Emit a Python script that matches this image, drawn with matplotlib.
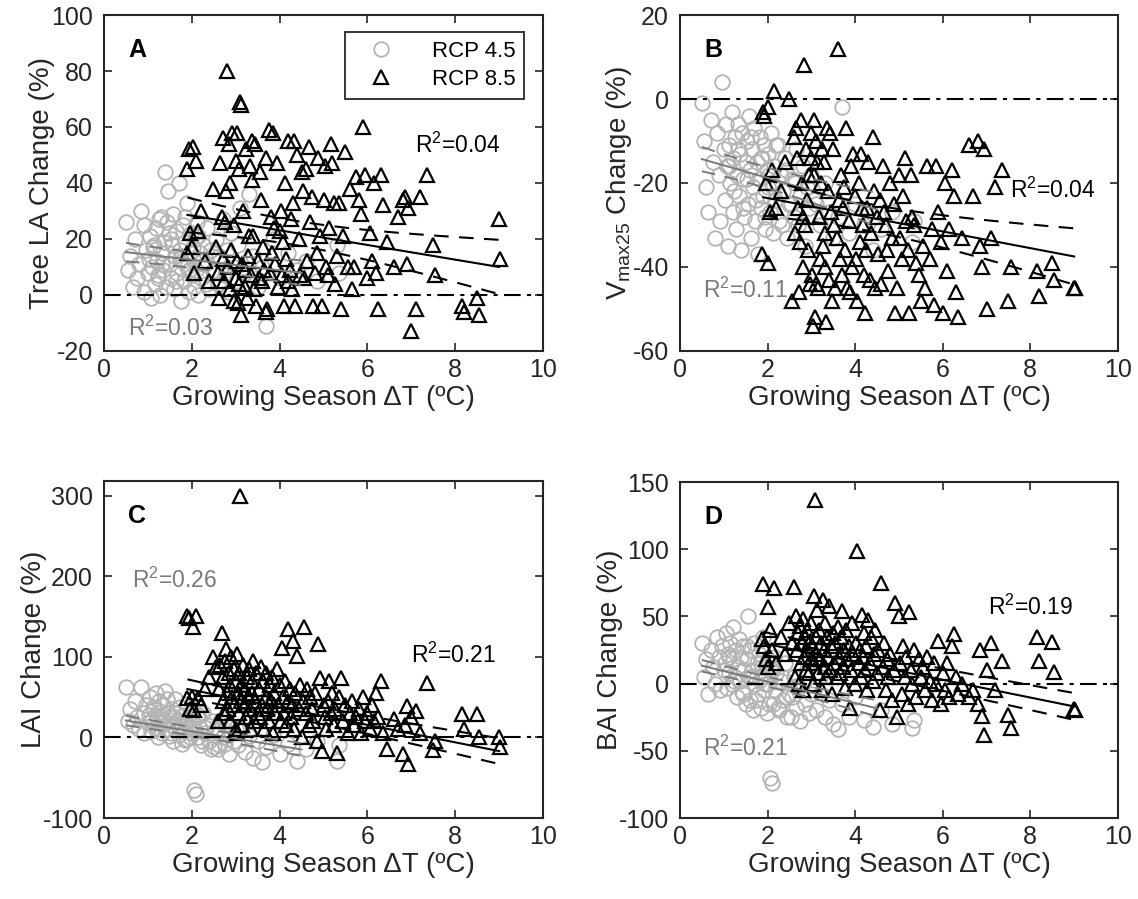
import numpy as np
import matplotlib.pyplot as plt

plt.rcParams['font.family'] = ['Liberation Sans', 'DejaVu Sans']
plt.rcParams['mathtext.fontset'] = 'custom'
plt.rcParams['mathtext.rm'] = 'Liberation Sans'
plt.rcParams['mathtext.it'] = 'Liberation Sans:italic'
plt.rcParams['mathtext.default'] = 'regular'
plt.rcParams['axes.unicode_minus'] = False

# growing season warming per site (RCP 8.5)
dT85 = [1.88, 1.9, 1.93, 1.96, 2.0, 2.02, 2.05, 2.1, 2.15, 2.2, 2.3, 2.4, 2.48, 2.55,
        2.6, 2.62, 2.65, 2.68, 2.7, 2.72, 2.74, 2.76, 2.78, 2.8, 2.82, 2.84, 2.86, 2.88, 2.9, 2.92, 2.95, 2.97, 3.0, 3.0,
        3.02, 3.04, 3.05, 3.07, 3.08, 3.1, 3.11, 3.13, 3.15, 3.17, 3.2, 3.22, 3.24, 3.26, 3.28, 3.3, 3.32, 3.34, 3.36, 3.38, 3.4, 3.42, 3.45, 3.47, 3.5,
        3.52, 3.55, 3.58, 3.6, 3.63, 3.65, 3.68, 3.7, 3.72, 3.75, 3.77, 3.8, 3.82, 3.85, 3.88, 3.9, 3.93, 3.96, 4.0,
        4.02, 4.05, 4.08, 4.1, 4.13, 4.15, 4.18, 4.2, 4.23, 4.25, 4.28, 4.3, 4.33, 4.36, 4.4, 4.43, 4.46, 4.5,
        4.53, 4.56, 4.6, 4.63, 4.66, 4.7, 4.73, 4.76, 4.8, 4.84, 4.88, 4.92, 4.96, 5.0,
        5.03, 5.06, 5.1, 5.13, 5.16, 5.2, 5.23, 5.27, 5.3, 5.35, 5.4, 5.45, 5.5,
        5.55, 5.6, 5.65, 5.7, 5.75, 5.8, 5.85, 5.9, 5.95, 6.0,
        6.05, 6.1, 6.15, 6.2, 6.25, 6.3, 6.35, 6.45,
        6.6, 6.7, 6.8, 6.85, 6.9, 6.93, 7.0,
        7.1, 7.2, 7.35, 7.5, 7.55, 8.15, 8.2, 8.5, 8.55, 9.0, 9.02]

la85 = [45, 15, 52, 22, 17, 53, 8, 48, 23, 30, 12, 5, 38, 17,
        8, -1, 47, 28, 13, 56, 5, 26, 37, 80, 10, 54, 2, 40, 16, 58, -2, 25, 48, 6,
        58, 12, -3, 45, 4, 69, 68, -7, 11, 30, 3, 9, 52, -1, 14, 21, 46, 7, 55, 41, 21, 2, 54, -4, 12,
        6, 44, 34, 5, 17, 9, -6, 49, -5, 59, 8, 28, 15, 58, 24, 11, 47, 3, 23,
        30, 7, 19, -4, 40, 13, 5, 55, 9, 27, 2, 33, 55, -4, 50, 20, 7, 44,
        37, 6, 45, 12, 53, 26, 35, -4, 8, 15, 49, 21, -4, 34,
        46, 10, 7, 24, 54, 47, 33, 4, 14, 33, -5, 21, 51,
        10, 38, 2, 10, 42, 34, 29, 60, 43, 6,
        22, 12, 40, 8, -5, 43, 32, 19,
        10, 28, 34, 35, 11, 31, -13,
        -5, 35, 43, 18, 7, -4, -6, -1, -7, 27, 13]

vmax85 = [-37, -3, -4, -20, -39, -2, -27, -17, 2, -26, -22, -15, 0, -48,
          -9, -32, -7, -14, -26, -46, -34, -5, -20, -28, -40, 8, -30, -12, -24, -36, -18, -44, -8, -14,
          -42, -54, -5, -18, -52, -44, -10, -15, -45, -28, -38, -20, -12, -35, -15, -40, -32, -53, -7, -22, -43, -8, -27, -48, -12,
          -30, -45, -33, 12, -24, -38, -18, -42, -26, -21, -36, -7, -45, -29, -46, -16, -40, -13, -23,
          -38, -48, -20, -34, -13, -26, -30, -42, -51, -36, -26, -15, -43, -32, -9, -22, -45, -28,
          -37, -24, -44, -16, -27, -30, -36, -41, -20, -33, -25, -51, -45, -18,
          -33, -38, -23, -14, -29, -36, -51, -18, -28, -30, -39, -42, -48,
          -35, -45, -16, -38, -31, -49, -16, -27, -34, -51,
          -20, -41, -31, -17, -23, -46, -52, -33,
          -11, -23, -10, -35, -40, -12, -50,
          -33, -21, -17, -48, -40, -41, -47, -39, -43, -45, -45]

lai85 = [150, 49, 148, 35, 50, 137, 34, 150, 49, 40, 60, 75, 100, 87,
         20, 60, 90, 129, 45, 75, 30, 95, 110, 55, 35, 80, 65, 20, 100, 50, 85, 40, 10, 70,
         103, 5, 55, 30, 80, 300, 45, 65, 15, 90, 40, 60, 25, 75, 50, 85, 35, 10, 70, 55, 95, 20, 45, 80, 30,
         60, 25, 87, 40, 70, 10, 50, 80, 35, 20, 65, 45, 75, 5, 55, 30, 85, 40, 65,
         20, 111, 50, 30, 70, 15, 45, 134, 60, 25, 40, 120, 10, 55, 101, 35, 65, 0,
         45, 137, 30, 60, 15, 50, 35, 20, 55, -5, 116, 74, -17, 40,
         25, 10, 45, 70, 30, 55, 15, 35, -19, 50, 74, 20, 40,
         5, 30, 45, 15, 25, 35, 5, 50, 20, 30,
         10, 40, 20, 55, 25, 70, 5, -14,
         23, 10, -20, 15, 39, -33, 25,
         33, 5, 67, -16, -5, 29, 11, 29, 1, 1, -12]

bai85 = [33, 74, 28, 18, 57, 12, 40, 25, 71, 15, 35, 22, 45, 30,
         72, 5, 50, 25, 38, 0, 43, 15, 30, -5, 48, 20, 35, 10, 40, 25, 8, 32, 18, 45,
         28, 0, 65, 15, 137, 35, 22, 55, 8, 40, 18, 30, -5, 62, 25, 12, 45, 5, 35, 20, 58, 10, 28, -8, 38,
         15, 30, 5, 42, 20, 8, 35, 54, 12, 25, -3, 40, 18, 28, -18, 10, 45, 22, 0,
         30, 99, 15, 25, 5, 51, 20, 38, 10, 28, -5, 47, 15, 35, 2, 22, 40, 8,
         25, -20, 75, 12, 30, -5, 18, 5, 22, -12, 10, 60, -25, 50,
         15, -8, 28, 5, 20, -15, 53, 10, 0, 25, -10, 18, 5,
         12, -5, 20, 2, -12, 15, 0, 32, -15, 8,
         -5, 15, -10, 28, 37, 5, -8, 0,
         -10, -5, -15, 25, -24, -38, 10,
         30, -5, 17, -23, -33, 35, 17, 31, 9, -19, -20]

# growing season warming per site (RCP 4.5)
dT45 = [0.5, 0.55, 0.6, 0.65, 0.7, 0.75, 0.8, 0.85, 0.9, 0.92, 0.95, 1.0,
        1.02, 1.05, 1.08, 1.1, 1.12, 1.15, 1.18, 1.2, 1.22, 1.25, 1.27, 1.3, 1.32, 1.35, 1.37, 1.4, 1.42, 1.45, 1.47, 1.5,
        1.52, 1.55, 1.57, 1.6, 1.62, 1.65, 1.67, 1.7, 1.72, 1.75, 1.78, 1.8, 1.83, 1.85, 1.88, 1.9, 1.93, 1.95, 1.98, 2.0,
        2.02, 2.05, 2.08, 2.1, 2.12, 2.15, 2.18, 2.2, 2.25, 2.3, 2.35, 2.4, 2.45, 2.5,
        2.55, 2.6, 2.65, 2.7, 2.75, 2.8, 2.85, 2.9, 2.95, 3.0,
        3.05, 3.1, 3.2, 3.3, 3.4, 3.5,
        3.6, 3.7, 3.85, 4.0, 4.2, 4.4,
        4.6, 4.85, 5.3, 5.35,
        1.13, 1.23, 1.33, 1.43, 1.53, 1.63, 1.73, 1.84, 1.94, 2.03, 2.13, 2.23, 2.33, 2.43, 2.53, 2.63]

la45 = [26, 9, 14, 3, 20, 6, 11, 30, 25, 1, 16, 8,
        13, 21, -1, 10, 17, 4, 24, 12, 7, 27, 0, 28, 15, 9, 19, 44, 3, 37, 22, 11,
        6, 18, 29, 2, 14, 23, 8, 40, 16, -2, 12, 25, 5, 19, 10, 33, 1, 15, 22, 7,
        13, 3, 20, 9, 26, 0, 15, 6, 18, 11, 24, 2, 14, 8,
        20, 4, 12, 27, 7, 16, 1, 22, 10, 5,
        18, 31, 8, 36, 14, 3,
        10, -11, 20, 6, 15, 9,
        12, 5, 18, 8,
        18, 6, 11, 26, 20, 5, 13, 28, 9, 17, 21, 12, 4, 16, 9, 14]

vmax45 = [-1, -10, -21, -27, -5, -15, -33, -8, -18, -29, 4, -12,
          -24, -6, -16, -35, -11, -20, -3, -27, -14, -9, -31, -18, -6, -23, -13, -36, -8, -19, -28, -15,
          -10, -25, -4, -17, -33, -12, -21, -7, -29, -15, -37, -19, -9, -26, -14, -23, -11, -31, -17, -21,
          -13, -27, -8, -20, -32, -16, -24, -11, -29, -18, -22, -14, -33, -25,
          -19, -28, -12, -30, -23, -16, -35, -21, -26, -18,
          -24, -25, -30, -20, -27, -33,
          -28, -2, -32, -25, -30, -36,
          -31, -27, -34, -29,
          -16, -22, -12, -26, -19, -9, -24, -14, -28, -18, -21, -11, -30, -17, -25, -20]

lai45 = [62, 20, 35, 15, 45, 25, 10, 62, 30, 5, 40, 18,
         28, 50, 8, 22, 38, 12, 55, 25, 0, 45, 18, 32, 5, 40, 20, 58, 10, 30, 2, 22,
         15, 35, -5, 25, 48, 10, 20, 3, 38, 14, -8, 28, 8, 22, -2, 42, 12, 0, 30, 5,
         18, -65, 8, -70, 25, 0, 12, -10, 30, 5, 15, -5, 20, -12,
         10, -15, 20, 0, -8, 15, -20, 5, -5, 12,
         -10, 8, -18, 2, -25, -5,
         -30, -12, 3, -20, -8, -29,
         -15, -5, -29, -10,
         35, 10, 25, 48, 5, 30, 15, -3, 22, 10, 28, -5, 12, -15, 8, -10]

bai45 = [30, 5, 18, -8, 25, 12, 0, 35, 20, -5, 28, 10,
         15, 38, -3, 22, 8, 30, 0, 18, 42, 5, 25, -10, 12, 33, 2, 20, -6, 28, 10, -15,
         18, 50, 5, -12, 25, 10, -20, 30, 0, 15, -8, 22, 3, -18, 12, 35, -5, 8, -22, 18,
         0, -70, 10, -74, -15, 20, -5, 8, -20, 2, -12, 15, -25, -8,
         -10, 5, -18, -2, -28, 0, -15, 10, -22, -8,
         -5, -20, 5, -25, -12, -30,
         -34, -15, -25, -10, -27, -32,
         -20, -30, -33, -27,
         20, 2, 12, -8, 28, 5, -12, 15, 0, -15, 10, -18, 5, -10, -25, -2]

# regression lines (value at start / end of range, band half width)
fit85_range = [1.9, 9.0]
fit85_start = [28.6, -23.4, 60, 30]
fit85_end = [10.0, -37.5, -17, -17]
band85_start = [6.2, 4.4, 12, 8.5]
band85_end = [9.7, 6.7, 16, 10]
fit45_range = [0.5, 4.5]
fit45_start = [15.3, -14.3, 21, 13.3]
fit45_end = [7.9, -26.3, -15, -18.4]
band45_start = [3.3, 2.9, 6, 4.3]
band45_end = [4.5, 4.0, 8, 6]

r2_85 = ['0.04', '0.04', '0.21', '0.19']
r2_45 = ['0.03', '0.11', '0.26', '0.21']
letters = ['A', 'B', 'C', 'D']
ylabels = ['Tree LA Change (%)', 'V$_{max25}$ Change (%)', 'LAI Change (%)', 'BAI Change (%)']
ylims = [(-20, 100), (-60, 20), (-100, 318), (-100, 150)]
yticks = [np.arange(-20, 101, 20), np.arange(-60, 21, 20), np.arange(-100, 301, 100), np.arange(-100, 151, 50)]

for v in [la85, vmax85, lai85, bai85]:
    if len(v) != len(dT85):
        raise ValueError(f'85: {len(v)} vs {len(dT85)}')
for v in [la45, vmax45, lai45, bai45]:
    if len(v) != len(dT45):
        raise ValueError(f'45: {len(v)} vs {len(dT45)}')

ys85 = [la85, vmax85, lai85, bai85]
ys45 = [la45, vmax45, lai45, bai45]

# text positions in axes fraction
r2_85_pos = [(0.708, 0.613), (0.753, 0.479), (0.70, 0.484), (0.703, 0.628)]
r2_45_pos = [(0.055, 0.068), (0.053, 0.182), (0.064, 0.706), (0.053, 0.208)]
ylabel_x = [-0.112, -0.104, -0.13, -0.13]

fig = plt.figure(figsize=(11.38, 8.99), dpi=100)
axes_rect = [[0.0914, 0.6096, 0.3858, 0.3737], [0.5975, 0.6096, 0.3849, 0.3737],
             [0.0914, 0.0901, 0.3858, 0.3748], [0.5975, 0.0901, 0.3849, 0.3737]]

c_circle = '#b4b4b4'
c_gray = '#7a7a7a'
frame = '#262626'


def band(x, x0, x1, xc, h0, h1):
    d0, d1 = (x0 - xc) ** 2, (x1 - xc) ** 2
    b = max((h1 ** 2 - h0 ** 2) / (d1 - d0), 0)
    a = h0 ** 2 - b * d0
    return np.sqrt(a + b * (x - xc) ** 2)


for i in range(4):
    ax = fig.add_axes(axes_rect[i])
    ax.plot(dT45, ys45[i], 'o', ms=10.5, mfc='none', mec=c_circle, mew=1.3, zorder=2, label='RCP 4.5')
    ax.plot(dT85, ys85[i], '^', ms=10.5, mfc='none', mec='black', mew=1.6, zorder=3, label='RCP 8.5')

    # RCP 4.5 fit
    x = np.linspace(fit45_range[0], fit45_range[1], 100)
    y = fit45_start[i] + (fit45_end[i] - fit45_start[i]) * (x - x[0]) / (x[-1] - x[0])
    hw = band(x, x[0], x[-1], 1.8, band45_start[i], band45_end[i])
    ax.plot(x, y, '-', color=c_gray, lw=1.4, zorder=4)
    ax.plot(x, y + hw, color=c_gray, lw=1.4, dashes=(7, 5), zorder=4)
    ax.plot(x, y - hw, color=c_gray, lw=1.4, dashes=(7, 5), zorder=4)

    # RCP 8.5 fit
    x = np.linspace(fit85_range[0], fit85_range[1], 100)
    y = fit85_start[i] + (fit85_end[i] - fit85_start[i]) * (x - x[0]) / (x[-1] - x[0])
    hw = band(x, x[0], x[-1], 4.3, band85_start[i], band85_end[i])
    ax.plot(x, y, '-', color='black', lw=1.5, zorder=5)
    ax.plot(x, y + hw, color='black', lw=1.5, dashes=(7, 5), zorder=5)
    ax.plot(x, y - hw, color='black', lw=1.5, dashes=(7, 5), zorder=5)

    ax.axhline(0, color='black', lw=1.5, dashes=(8, 3, 2, 3), zorder=6)

    ax.set_xlim(0, 10)
    ax.set_ylim(*ylims[i])
    ax.set_xticks(range(0, 11, 2))
    ax.set_yticks(yticks[i])
    ax.tick_params(direction='in', top=True, right=True, length=6, width=1.2,
                   labelsize=18, colors=frame, labelcolor='#262626')
    ax.tick_params(axis='x', pad=5)
    ax.tick_params(axis='y', pad=8)
    for s in ax.spines.values():
        s.set_color(frame)
        s.set_linewidth(1.5)
    ax.set_xlabel('Growing Season \u0394T (\u00baC)', fontsize=20, color='#262626', labelpad=2)
    ax.set_ylabel(ylabels[i], fontsize=20, color='#262626')
    ax.yaxis.set_label_coords(ylabel_x[i], 0.5)

    ax.text(0.055, 0.895, letters[i], transform=ax.transAxes, fontsize=18,
            fontweight='bold', ha='left', va='center')
    ax.text(*r2_85_pos[i], 'R$^2$=' + r2_85[i], transform=ax.transAxes, fontsize=16.5,
            color='black', ha='left', va='center')
    ax.text(*r2_45_pos[i], 'R$^2$=' + r2_45[i], transform=ax.transAxes, fontsize=16.5,
            color=c_gray, ha='left', va='center')

    if i == 0:
        leg = ax.legend(loc='upper right', bbox_to_anchor=(0.957, 0.949), fontsize=16,
                        frameon=True, fancybox=False, framealpha=1, edgecolor=frame,
                        handlelength=2.4, handletextpad=1.1, borderpad=0.4,
                        labelspacing=0.3, borderaxespad=0)
        leg.get_frame().set_linewidth(1.3)

fig.savefig('out.png', dpi=100)
